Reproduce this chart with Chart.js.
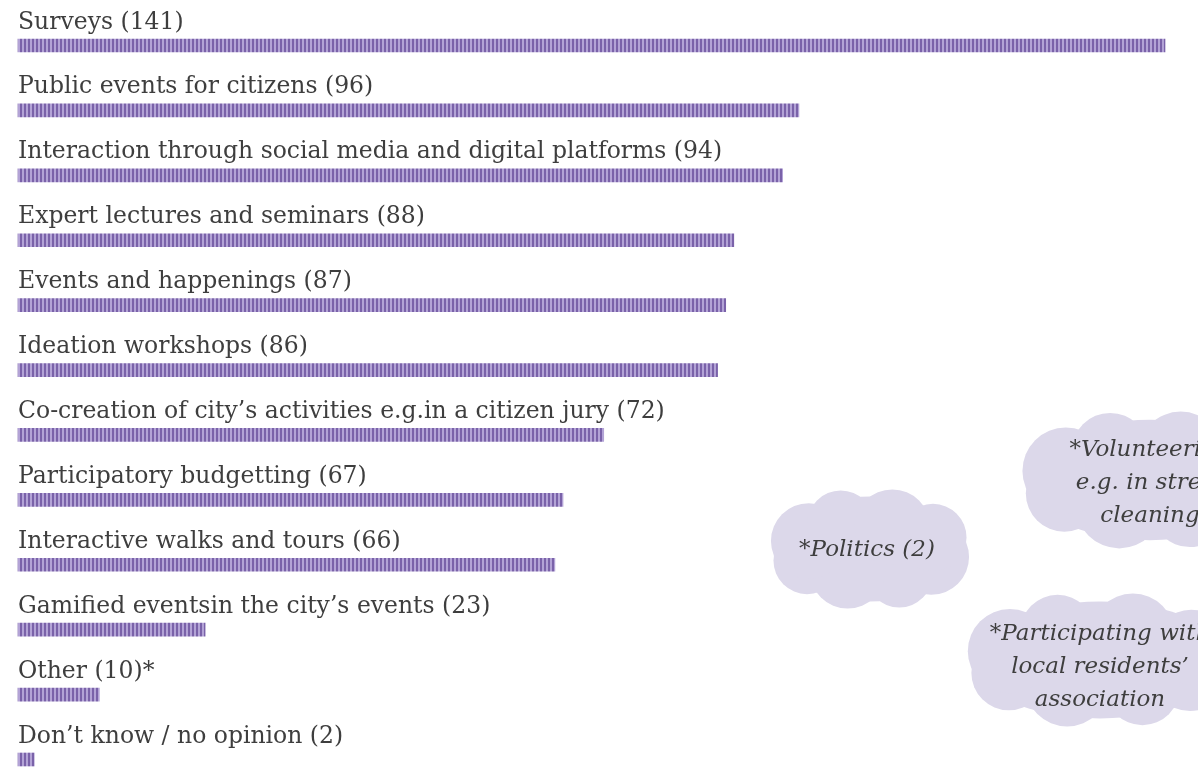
<!DOCTYPE html>
<html>
<head>
<meta charset="utf-8">
<script src="https://cdn.jsdelivr.net/npm/chart.js@4/dist/chart.umd.min.js"></script>
<style>
  html, body { margin: 0; padding: 0; background: #fff; overflow: hidden; }
</style>
</head>
<body>
<canvas id="chart" width="1198" height="772"></canvas>
<script>
const CATEGORIES = [
    'Surveys',
    'Public events for citizens',
    'Interaction through social media and digital platforms',
    'Expert lectures and seminars',
    'Events and happenings',
    'Ideation workshops',
    'Co-creation of city’s activities e.g.in a citizen jury',
    'Participatory budgetting',
    'Interactive walks and tours',
    'Gamified eventsin the city’s events',
    'Other',
    'Don’t know / no opinion'
];
const COUNTS = [141, 96, 94, 88, 87, 86, 72, 67, 66, 23, 10, 2];
const SUFFIX = ['', '', '', '', '', '', '', '', '', '', '*', ''];

// answers written under "Other" (shown as clouds)
const OTHER_NOTES = [
    ['*Politics (2)'],
    ['*Volunteering', 'e.g. in street', 'cleaning'],
    ['*Participating with', 'local residents’', 'association']
];

const LABEL_FONT = '23.5px "DejaVu Serif", serif';
const NOTE_FONT = 'italic 23px "DejaVu Serif", serif';
const TEXT_COLOR = '#3e3e3e';
const CLOUD_COLOR = '#dcd8ea';

// vertical stripes for the bars
function stripePattern() {
    const c = document.createElement('canvas');
    c.width = 4; c.height = 4;
    const g = c.getContext('2d');
    g.fillStyle = '#b3a3d6';
    g.fillRect(0, 0, 4, 4);
    g.fillStyle = '#7a62a9';
    g.fillRect(0, 0, 2, 4);
    return g.createPattern(c, 'repeat');
}

// soft cloud: a big ellipse with a few wide lobes round it
function drawCloud(ctx, cx, cy, w, h) {
    const rx = w / 2, ry = h / 2;
    ctx.beginPath();
    ctx.ellipse(cx, cy, rx * 0.93, ry * 0.86, 0, 0, Math.PI * 2);
    ctx.fill();
    const n = 8;
    for (let i = 0; i < n; i++) {
        const a = (i / n) * Math.PI * 2 + 0.35;
        const r = ry * (i % 2 ? 0.55 : 0.62);
        const px = cx + Math.cos(a) * (rx - r);
        const py = cy + Math.sin(a) * (ry - r);
        ctx.beginPath();
        ctx.arc(px, py, r, 0, Math.PI * 2);
        ctx.fill();
    }
}

const cloudsPlugin = {
    id: 'clouds',
    beforeDatasetsDraw(chart) {
        const ctx = chart.ctx;
        const spots = [
            { cx: 870, cy: 549, w: 206, h: 122, text: 867, base: 556 },
            { cx: 1150, cy: 480, w: 266, h: 140, text: 1150, base: 456 },
            { cx: 1100, cy: 660, w: 276, h: 136, text: 1100, base: 640 }
        ];
        ctx.save();
        ctx.fillStyle = CLOUD_COLOR;
        spots.forEach(s => drawCloud(ctx, s.cx, s.cy, s.w, s.h));
        ctx.fillStyle = TEXT_COLOR;
        ctx.font = NOTE_FONT;
        ctx.textAlign = 'center';
        ctx.textBaseline = 'alphabetic';
        spots.forEach((s, i) => {
            OTHER_NOTES[i].forEach((line, j) => ctx.fillText(line, s.text, s.base + j * 33));
        });
        ctx.restore();
    }
};

const labelsPlugin = {
    id: 'barLabels',
    afterDatasetsDraw(chart) {
        const ctx = chart.ctx;
        const meta = chart.getDatasetMeta(0);
        ctx.save();
        ctx.font = LABEL_FONT;
        ctx.fillStyle = TEXT_COLOR;
        ctx.textAlign = 'left';
        ctx.textBaseline = 'alphabetic';
        meta.data.forEach((bar, i) => {
            const txt = `${CATEGORIES[i]} (${COUNTS[i]})${SUFFIX[i]}`;
            ctx.fillText(txt, chart.chartArea.left, bar.y - 17);
        });
        ctx.restore();
    }
};

new Chart(document.getElementById('chart'), {
    type: 'bar',
    data: {
        labels: CATEGORIES,
        datasets: [{
            data: COUNTS,
            backgroundColor: stripePattern(),
            borderWidth: 0,
            barThickness: 13,
            clip: false
        }]
    },
    options: {
        indexAxis: 'y',
        responsive: false,
        animation: false,
        layout: { padding: { top: 45.5, bottom: 12.5, left: 18, right: 33 } },
        plugins: { legend: { display: false }, tooltip: { enabled: false } },
        scales: {
            x: { display: false, min: 0, max: Math.max(...COUNTS) },
            y: { display: false, offset: false }
        }
    },
    plugins: [cloudsPlugin, labelsPlugin]
});
</script>
</body>
</html>
